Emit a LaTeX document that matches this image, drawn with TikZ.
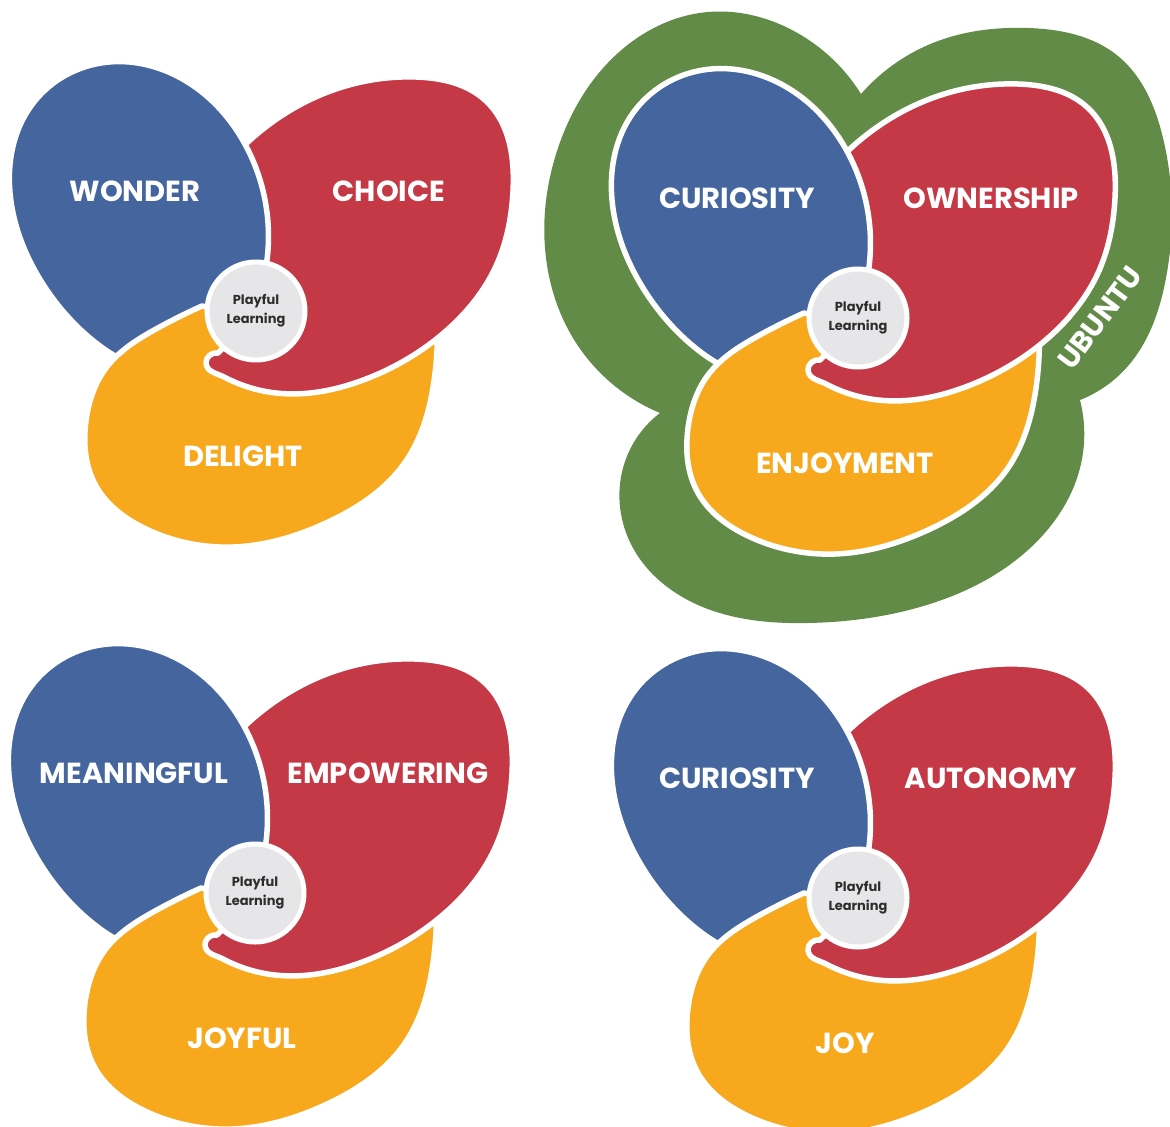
\documentclass[tikz,border=0pt]{standalone}
\usepackage{fontspec}
\setmainfont{Poppins}
\usetikzlibrary{hobby}
\definecolor{plblue}{RGB}{69,101,158}
\definecolor{plred}{RGB}{196,57,69}
\definecolor{plyellow}{RGB}{247,168,28}
\definecolor{plgreen}{RGB}{97,139,70}
\definecolor{plgray}{RGB}{230,230,232}
\definecolor{pltext}{RGB}{45,45,45}
\tikzset{
  redpath/.style={insert path={(-35,140) .. (15,188) .. (80,222) .. (160,234)
    .. (230,210) .. (257,120) .. (240,45) .. (190,-20) .. (110,-68) .. (20,-82)
    .. (-30,-67) to[out=150,in=-85] (-50,-52) to[out=95,in=170] (-38,-42)
    -- (0,-5) -- (-15,80) -- cycle}},
  bluepath/.style={insert path={(11,51) .. (-10,165) .. (-70,230) .. (-155,248)
    .. (-225,205) .. (-246,118) .. (-215,30) .. (-160,-32) .. (-95,-58)
    .. (-30,-25) .. (11,51) -- cycle}},
  yellowpath/.style={insert path={(181,-5) .. (178,-70) .. (150,-150) .. (70,-212)
    .. (-23,-236) .. (-110,-218) .. (-160,-175) .. (-170,-110) .. (-150,-57)
    .. (-100,-18) .. (-54,5) -- (-20,-2) -- (40,-40) -- (120,-50) -- cycle}},
  gonepath/.style={insert path={(3,224) .. (-70,290) .. (-150,306) .. (-240,265)
    .. (-300,170) .. (-312,60) .. (-285,-20) .. (-198,-95)
    -- (-150,-110) -- (-60,0) -- (30,150) -- cycle}},
  gtwopath/.style={insert path={(3,224) .. (80,277) .. (170,290) .. (260,262)
    .. (305,180) .. (308,40) .. (270,-48) .. (222,-82)
    -- (180,-110) -- (100,-40) -- (-40,150) -- cycle}},
  gthreepath/.style={insert path={(222,-82) .. (222,-150) .. (170,-232)
    .. (62,-289) .. (-50,-305) .. (-160,-287) .. (-225,-230) .. (-235,-150)
    .. (-198,-95) -- (-100,-40) -- (100,0) -- (205,-40) -- cycle}},
  petal/.style={draw=white, line width=5.5pt, line join=round},
  lbl/.style={text=white, font=\fontsize{29}{32}\selectfont\bfseries, inner sep=0pt},
  ctr/.style={circle, fill=plgray, draw=white, line width=5pt, minimum size=98pt,
    inner sep=0pt, align=center, text=pltext,
    font=\fontsize{13}{19}\selectfont\bfseries},
}
\newcommand{\pldiag}[5]{%
  \begin{scope}[shift={#1}, use Hobby shortcut]
    \path[fill=plred, petal, redpath];
    \path[fill=plblue, petal, bluepath];
    \path[fill=plyellow, petal, yellowpath];
    \begin{scope}
      \clip (-60,-300) rectangle (400,0);
      \path[fill=plred, petal, redpath];
    \end{scope}
    \node[ctr] (#2c) at (0,0) {Playful\\Learning};
    \node[lbl] (#2l) at (-121,120) {#3};
    \node[lbl] (#2r) at (133,120) {#4};
    \node[lbl] (#2b) at (-13,-145) {#5};
  \end{scope}}
\begin{document}
\begin{tikzpicture}[x=1pt,y=1pt]
\useasboundingbox[fill=white] (0,0) rectangle (1170,-1127);
% green surround of the top-right diagram
\begin{scope}[shift={(858,-318)}, use Hobby shortcut]
  \path[fill=plgreen, gonepath];
  \path[fill=plgreen, gtwopath];
  \path[fill=plgreen, gthreepath];
\end{scope}
\pldiag{(256,-311)}{tl}{WONDER}{CHOICE}{DELIGHT}
\pldiag{(858,-318)}{tr}{CURIOSITY}{OWNERSHIP}{ENJOYMENT}
\pldiag{(255,-893)}{bl}{MEANINGFUL}{EMPOWERING}{JOYFUL}
\pldiag{(858,-898)}{br}{CURIOSITY}{AUTONOMY}{JOY}
\node[lbl, rotate=53] (ubuntu) at (1100,-318) {UBUNTU};
\end{tikzpicture}
\end{document}
